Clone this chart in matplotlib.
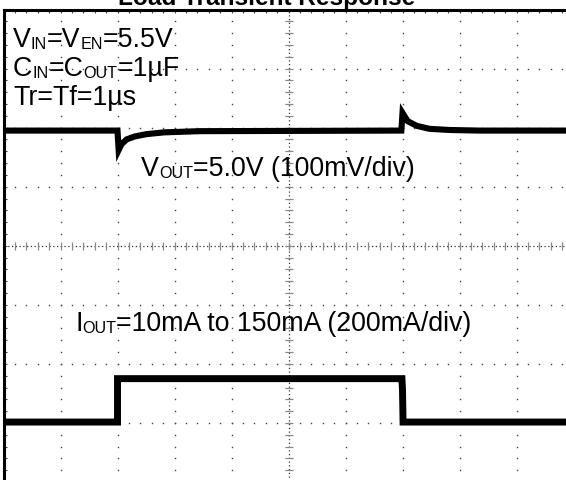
import numpy as np
import matplotlib
matplotlib.use("Agg")
import matplotlib.pyplot as plt
import matplotlib.transforms as mtransforms

plt.rcParams['font.family'] = ['Liberation Sans', 'DejaVu Sans']

# --- scope settings (10 x 8 divisions) ---
n_xdiv, n_ydiv = 10, 8
vout_offset_div = 5.95      # where 5.0V sits on screen
vout_scale_mv = 100.0       # mV/div
iout_offset_div = 0.965     # where 0mA sits on screen
iout_scale_ma = 200.0       # mA/div

# VOUT trace: time (div) and deviation from 5.0V (mV)
vout_t = [0, 2.0, 2.02, 2.07, 2.16, 2.30, 2.51, 2.82, 3.44,
          6.98, 7.0, 7.09, 7.25, 7.47, 7.82, 8.35, 10]
vout_dev_mv = [0, 0, -33, -23, -15, -10, -6, -3, -1,
               0, 30, 16, 8, 3, 1, 0, 0]

# IOUT trace: time (div) and load current (mA)
iout_t = [0, 2.0, 2.0, 6.99, 7.0, 7.01, 10]
iout_ma = [10, 10, 157, 157, 120, 10, 10]

notes = [
    [("V", False), ("IN", True), ("=V", False), ("EN", True), ("=5.5V", False)],
    [("C", False), ("IN", True), ("=C", False), ("OUT", True), ("=1µF", False)],
    [("Tr=Tf=1µs", False)],
]
vout_label = [("V", False), ("OUT", True), ("=5.0V (100mV/div)", False)]
iout_label = [("I", False), ("OUT", True), ("=10mA to 150mA (200mA/div)", False)]

W, H = 566, 481
fig = plt.figure(figsize=(W / 100, H / 100), dpi=100)
# screen: left edge at x=3.5px, top at y=10.5px, one div = 57 x 59 px
ax = fig.add_axes([3.5 / W, (H - 483) / H, 570 / W, 472.5 / H])
ax.set_xlim(0, n_xdiv)
ax.set_ylim(0, n_ydiv)

for s in ax.spines.values():
    s.set_linewidth(2.2)
    s.set_color('black')

# tiny ticks on the frame
ax.set_xticks(np.arange(0, n_xdiv + 0.01, 0.2))
ax.set_yticks(np.arange(0, n_ydiv + 0.01, 0.2))
ax.tick_params(direction='in', length=2.5, width=0.8, colors='#444',
               top=True, bottom=False, left=True, right=False,
               labelbottom=False, labelleft=False)

# dotted graticule
sub_x = np.arange(0, n_xdiv + 0.01, 0.2)
sub_y = np.arange(0, n_ydiv + 0.01, 0.2)
for i in range(1, n_xdiv):
    if i == n_xdiv // 2:
        continue
    ax.plot(np.full_like(sub_y, i), sub_y, ls='none', marker='s', ms=1.0,
            mew=0, color='#444')
for j in range(1, n_ydiv):
    if j == n_ydiv // 2:
        continue
    ax.plot(sub_x, np.full_like(sub_x, j), ls='none', marker='s', ms=1.0,
            mew=0, color='#444')

# center axes: dense dots plus small ticks
ax.axhline(n_ydiv / 2, ls=(0, (1, 2)), lw=0.9, color='#333')
ax.axvline(n_xdiv / 2, ls=(0, (1, 2)), lw=0.9, color='#333')
ax.plot(sub_x, np.full_like(sub_x, n_ydiv / 2), ls='none', marker='|',
        ms=6, mew=0.9, color='#888')
ax.plot(np.full_like(sub_y, n_xdiv / 2), sub_y, ls='none', marker='_',
        ms=6, mew=0.9, color='#888')

# traces
vout_y = vout_offset_div + np.array(vout_dev_mv) / vout_scale_mv
iout_y = iout_offset_div + np.array(iout_ma) / iout_scale_ma
ax.plot(vout_t, vout_y, color='black', lw=4.4, solid_joinstyle='miter',
        solid_capstyle='butt')
ax.plot(iout_t, iout_y, color='black', lw=5.0, solid_joinstyle='miter',
        solid_capstyle='butt')


def sub_text(x, y, parts, size=19.3):
    renderer = fig.canvas.get_renderer()
    dx = 0.0
    for s, is_sub in parts:
        fs = size * 0.6 if is_sub else size
        dy = -size * 0.08 if is_sub else 0.0
        tr = mtransforms.offset_copy(ax.transData, fig=fig, x=dx, y=dy,
                                     units='points')
        t = ax.text(x, y, s, fontsize=fs, transform=tr, ha='left',
                    va='baseline', color='black', clip_on=False)
        dx += t.get_window_extent(renderer).width * 72.0 / fig.dpi


def px(x_px, y_px):
    # figure pixel -> screen divisions
    return (x_px - 3.5) / 57.0, (483 - y_px) / 59.0


for k, line in enumerate(notes):
    sub_text(*px(13, 47 + k * 29), line)
sub_text(*px(141, 176), vout_label)
sub_text(*px(75, 331), iout_label)

fig.text(0.5 - 16 / W, 1 - 5 / H, "Load Transient Response", ha='center',
         va='baseline', fontsize=17.6, fontweight='bold')

fig.savefig("out.png", dpi=100)
